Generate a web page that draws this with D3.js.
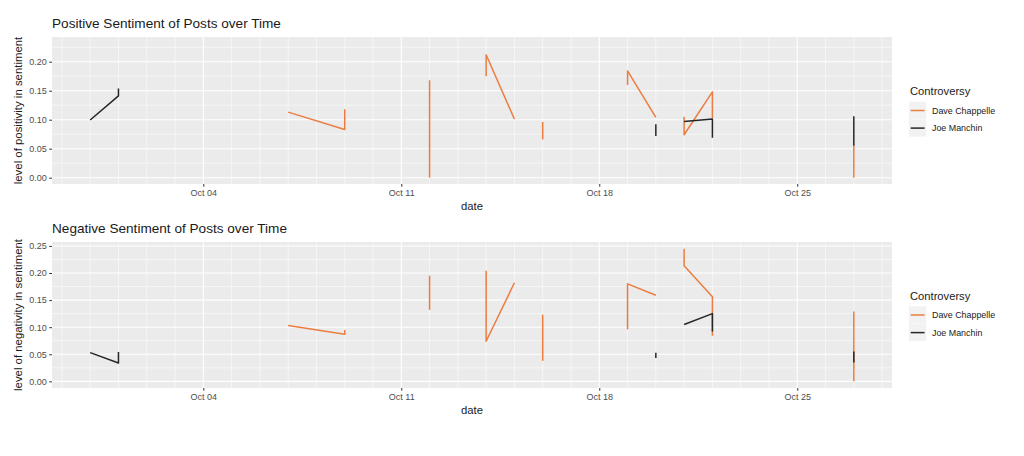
<!DOCTYPE html>
<html>
<head>
<meta charset="utf-8">
<script src="https://cdn.jsdelivr.net/npm/d3@7"></script>
<style>
  html, body { margin: 0; padding: 0; background: #fff; }
  svg { display: block; }
  text { font-family: "Liberation Sans", Arial, sans-serif; }
</style>
</head>
<body>
<div id="chart"></div>
<script>
// ---------------- data ----------------
const seriesNames = ["Dave Chappelle", "Joe Manchin"];
const seriesColors = ["#EB7D40", "#262626"];
const xTickLabels = ["Oct 04", "Oct 11", "Oct 18", "Oct 25"];
const xTickDates = ["2021-10-04", "2021-10-11", "2021-10-18", "2021-10-25"];
const yTicksPositive = [0, 0.05, 0.10, 0.15, 0.20];
const yTicksNegative = [0, 0.05, 0.10, 0.15, 0.20, 0.25];

// each row: [date, value, run id]
const chappellePositive = [
  ["2021-10-07", 0.113, 1], ["2021-10-09", 0.083, 1], ["2021-10-09", 0.118, 1],
  ["2021-10-12", 0.000, 2], ["2021-10-12", 0.168, 2],
  ["2021-10-14", 0.175, 3], ["2021-10-14", 0.212, 3], ["2021-10-15", 0.101, 3],
  ["2021-10-16", 0.066, 4], ["2021-10-16", 0.096, 4],
  ["2021-10-19", 0.160, 5], ["2021-10-19", 0.184, 5], ["2021-10-20", 0.104, 5],
  ["2021-10-21", 0.105, 6], ["2021-10-21", 0.074, 6], ["2021-10-22", 0.148, 6], ["2021-10-22", 0.103, 6],
  ["2021-10-27", 0.000, 7], ["2021-10-27", 0.055, 7]
];
const manchinPositive = [
  ["2021-09-30", 0.0995, 1], ["2021-10-01", 0.141, 1], ["2021-10-01", 0.154, 1],
  ["2021-10-20", 0.072, 2], ["2021-10-20", 0.092, 2],
  ["2021-10-21", 0.097, 3], ["2021-10-22", 0.101, 3], ["2021-10-22", 0.069, 3],
  ["2021-10-27", 0.055, 4], ["2021-10-27", 0.106, 4]
];
const chappelleNegative = [
  ["2021-10-07", 0.103, 1], ["2021-10-09", 0.087, 1], ["2021-10-09", 0.095, 1],
  ["2021-10-12", 0.132, 2], ["2021-10-12", 0.195, 2],
  ["2021-10-14", 0.204, 3], ["2021-10-14", 0.074, 3], ["2021-10-15", 0.182, 3],
  ["2021-10-16", 0.038, 4], ["2021-10-16", 0.123, 4],
  ["2021-10-19", 0.096, 5], ["2021-10-19", 0.180, 5], ["2021-10-20", 0.159, 5],
  ["2021-10-21", 0.245, 6], ["2021-10-21", 0.2135, 6], ["2021-10-22", 0.156, 6], ["2021-10-22", 0.084, 6],
  ["2021-10-27", 0.000, 7], ["2021-10-27", 0.129, 7]
];
const manchinNegative = [
  ["2021-09-30", 0.053, 1], ["2021-10-01", 0.034, 1], ["2021-10-01", 0.054, 1],
  ["2021-10-20", 0.043, 2], ["2021-10-20", 0.053, 2],
  ["2021-10-21", 0.105, 3], ["2021-10-22", 0.125, 3], ["2021-10-22", 0.092, 3],
  ["2021-10-27", 0.035, 4], ["2021-10-27", 0.055, 4]
];

// ---------------- layout ----------------
const W = 1024, H = 456;
const parse = d3.utcParse("%Y-%m-%d");
const dataStart = parse("2021-09-30"), dataEnd = parse("2021-10-27");
const span = dataEnd - dataStart;
const xDomain = [new Date(+dataStart - 0.05 * span), new Date(+dataEnd + 0.05 * span)];

const panels = [
  { title: "Positive Sentiment of Posts over Time", ylab: "level of positivity in sentiment",
    top: 37, bottom: 184, yDomain: [-0.0109, 0.2426], yTicks: yTicksPositive,
    series: [chappellePositive, manchinPositive], titleY: 28, legendTitleY: 95 },
  { title: "Negative Sentiment of Posts over Time", ylab: "level of negativity in sentiment",
    top: 242, bottom: 388, yDomain: [-0.01225, 0.25725], yTicks: yTicksNegative,
    series: [chappelleNegative, manchinNegative], titleY: 233, legendTitleY: 299.5 }
];
const left = 52, right = 892;

const svg = d3.select("#chart").append("svg").attr("width", W).attr("height", H);
svg.append("rect").attr("width", W).attr("height", H).attr("fill", "#fff");

const x = d3.scaleUtc().domain(xDomain).range([left, right]);

panels.forEach(p => {
  const y = d3.scaleLinear().domain(p.yDomain).range([p.bottom, p.top]);
  const g = svg.append("g");

  g.append("rect").attr("x", left).attr("y", p.top)
    .attr("width", right - left).attr("height", p.bottom - p.top).attr("fill", "#EBEBEB");

  // minor x grid: daily
  const days = d3.utcDay.range(d3.utcDay.ceil(xDomain[0]), xDomain[1]);
  const majorDates = xTickDates.map(parse);
  const isMajor = d => majorDates.some(m => +m === +d);
  g.selectAll(".xminor").data(days.filter(d => !isMajor(d))).join("line")
    .attr("x1", d => x(d)).attr("x2", d => x(d)).attr("y1", p.top).attr("y2", p.bottom)
    .attr("stroke", "#fff").attr("stroke-width", 0.55);
  // minor y grid
  const yMinor = d3.range(0.025, p.yDomain[1], 0.05);
  g.selectAll(".yminor").data(yMinor).join("line")
    .attr("x1", left).attr("x2", right).attr("y1", d => y(d)).attr("y2", d => y(d))
    .attr("stroke", "#fff").attr("stroke-width", 0.55);
  // major grid
  g.selectAll(".xmajor").data(majorDates).join("line")
    .attr("x1", d => x(d)).attr("x2", d => x(d)).attr("y1", p.top).attr("y2", p.bottom)
    .attr("stroke", "#fff").attr("stroke-width", 1.1);
  g.selectAll(".ymajor").data(p.yTicks).join("line")
    .attr("x1", left).attr("x2", right).attr("y1", d => y(d)).attr("y2", d => y(d))
    .attr("stroke", "#fff").attr("stroke-width", 1.1);

  // axes
  const xAxis = d3.axisBottom(x).tickValues(majorDates)
    .tickFormat((d, i) => xTickLabels[i]).tickSize(2.75).tickPadding(3);
  const xa = g.append("g").attr("transform", `translate(0,${p.bottom})`).call(xAxis);
  xa.select(".domain").remove();
  xa.selectAll(".tick line").attr("stroke", "#333").attr("stroke-width", 1);
  xa.selectAll(".tick text").attr("fill", "#4D4D4D").attr("font-size", 9)
    .attr("font-family", "Liberation Sans, Arial, sans-serif");

  const yAxis = d3.axisLeft(y).tickValues(p.yTicks).tickFormat(d3.format(".2f"))
    .tickSize(2.75).tickPadding(2.5);
  const ya = g.append("g").attr("transform", `translate(${left},0)`).call(yAxis);
  ya.select(".domain").remove();
  ya.selectAll(".tick line").attr("stroke", "#333").attr("stroke-width", 1);
  ya.selectAll(".tick text").attr("fill", "#4D4D4D").attr("font-size", 9)
    .attr("font-family", "Liberation Sans, Arial, sans-serif");

  // lines
  const line = d3.line().x(d => x(parse(d[0]))).y(d => y(d[1]));
  p.series.forEach((s, si) => {
    const runs = d3.groups(s, d => d[2]);
    g.append("g").selectAll("path").data(runs).join("path")
      .attr("d", r => line(r[1]))
      .attr("fill", "none").attr("stroke", seriesColors[si]).attr("stroke-width", 1.5)
      .attr("stroke-linejoin", "round").attr("stroke-linecap", "butt");
  });

  // titles
  g.append("text").attr("x", left).attr("y", p.titleY).attr("font-size", 13.6)
    .attr("fill", "#1a1a1a").text(p.title);
  g.append("text").attr("x", (left + right) / 2).attr("y", p.bottom + 26)
    .attr("text-anchor", "middle").attr("font-size", 11.3).attr("fill", "#1a1a1a").text("date");
  g.append("text")
    .attr("transform", `translate(22,${(p.top + p.bottom) / 2}) rotate(-90)`)
    .attr("text-anchor", "middle").attr("font-size", 11.4).attr("fill", "#1a1a1a").text(p.ylab);

  // legend
  const lx = 910, ly = p.legendTitleY;
  g.append("text").attr("x", lx).attr("y", ly).attr("font-size", 11.2).attr("fill", "#1a1a1a").text("Controversy");
  seriesNames.forEach((name, i) => {
    const cy = ly + 15.5 + i * 17.6;
    g.append("rect").attr("x", lx - 1).attr("y", cy - 8.8).attr("width", 17.3).attr("height", 17.3)
      .attr("fill", "#F2F2F2");
    g.append("line").attr("x1", lx + 0.7).attr("x2", lx + 14.6).attr("y1", cy).attr("y2", cy)
      .attr("stroke", seriesColors[i]).attr("stroke-width", 1.5);
    g.append("text").attr("x", lx + 22).attr("y", cy + 3.2).attr("font-size", 8.9)
      .attr("fill", "#1a1a1a").text(name);
  });
});
</script>
</body>
</html>
